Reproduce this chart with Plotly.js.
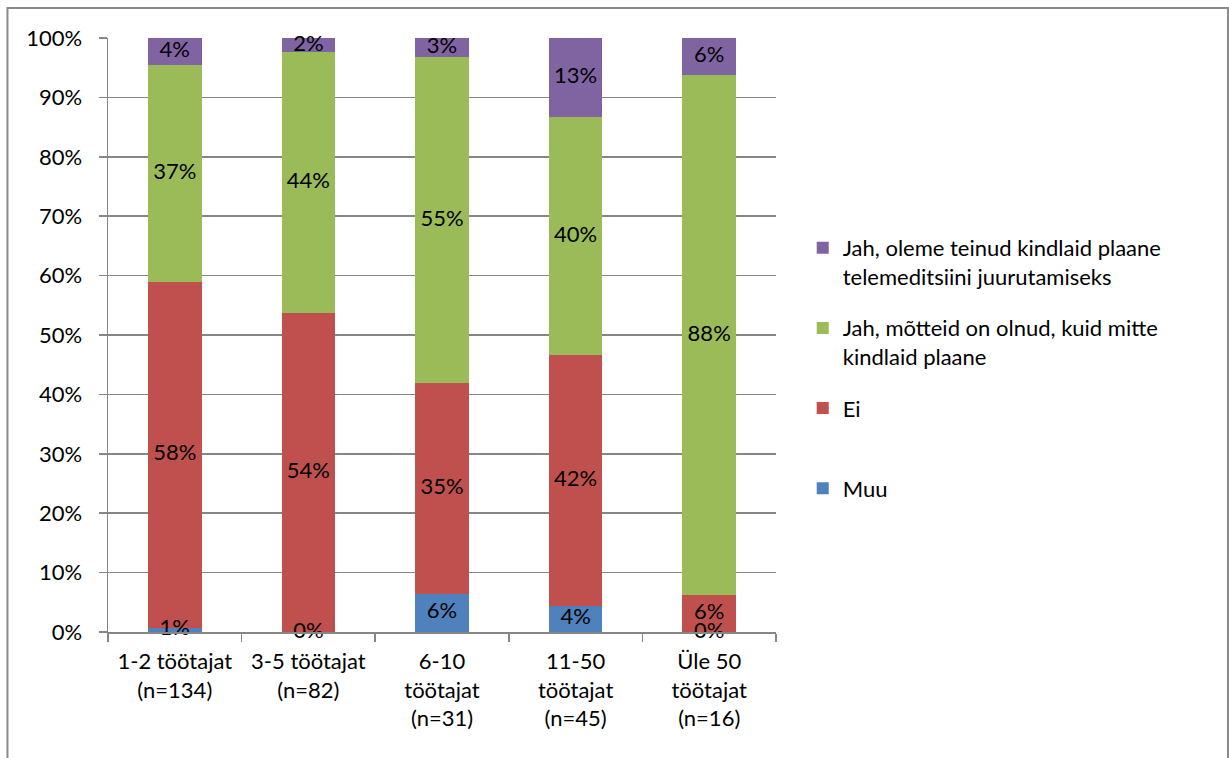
<!DOCTYPE html>
<html>
<head>
<meta charset="utf-8">
<script src="https://cdn.plot.ly/plotly-3.0.1.min.js"></script>
<style>
html,body{margin:0;padding:0;background:#fff;}
#chart{width:1229px;height:758px;}
</style>
</head>
<body>
<div id="chart"></div>
<script>
// Categories (x tick labels)
var categories = [
  "1-2 töötajat<br>(n=134)",
  "3-5 töötajat<br>(n=82)",
  "6-10<br>töötajat<br>(n=31)",
  "11-50<br>töötajat<br>(n=45)",
  "Üle 50<br>töötajat<br>(n=16)"
];

// Series values (percent)
var muu      = [0.75, 0.0, 6.45, 4.44, 0.0];
var ei       = [58.2, 53.66, 35.48, 42.22, 6.25];
var motteid  = [36.57, 43.9, 54.84, 40.0, 87.5];
var plaanid  = [4.48, 2.44, 3.23, 13.33, 6.25];

var seriesNames = [
  "Muu<br> ",
  "Ei<br> ",
  "Jah, mõtteid on olnud, kuid mitte<br>kindlaid plaane",
  "Jah, oleme teinud kindlaid plaane<br>telemeditsiini juurutamiseks"
];
var seriesValues = [muu, ei, motteid, plaanid];
var seriesColors = ["#4F81BD", "#C0504D", "#9BBB59", "#8064A2"];

var yTickVals = [0,10,20,30,40,50,60,70,80,90,100];
var yTickText = ["0%","10%","20%","30%","40%","50%","60%","70%","80%","90%","100%"];

var FONT = "Lato, 'Open Sans', sans-serif";
var FS = 22;

var traces = [];
for (var s = 0; s < seriesValues.length; s++) {
  traces.push({
    type: "bar",
    name: seriesNames[s],
    x: categories,
    y: seriesValues[s],
    marker: {color: seriesColors[s], line: {width: 0}},
    textposition: "none",
    hoverinfo: "skip",
    legendgroup: "g" + s,
    legendrank: 1000 - s
  });
}

// Data labels at the middle of each segment
var lx = [], ly = [], lt = [];
for (var c = 0; c < categories.length; c++) {
  var base = 0;
  for (var s2 = 0; s2 < seriesValues.length; s2++) {
    var v = seriesValues[s2][c];
    lx.push(categories[c]);
    ly.push(base + v / 2);
    lt.push(Math.round(v) + "%");
    base += v;
  }
}
traces.push({
  type: "scatter",
  mode: "text",
  x: lx, y: ly, text: lt,
  textposition: "middle center",
  textfont: {family: FONT, size: FS, color: "#000"},
  showlegend: false,
  hoverinfo: "skip",
  cliponaxis: false
});

var layout = {
  width: 1229,
  height: 758,
  margin: {l: 108, r: 453, t: 38, b: 126},
  paper_bgcolor: "#fff",
  plot_bgcolor: "#fff",
  barmode: "stack",
  bargap: 0.6,
  font: {family: FONT, size: FS, color: "#000"},
  showlegend: true,
  legend: {
    x: 1.040, y: 0.682, xanchor: "left", yanchor: "top",
    traceorder: "grouped",
    tracegroupgap: 20,
    valign: "top",
    font: {family: FONT, size: FS, color: "#000"},
    itemwidth: 30,
    bgcolor: "rgba(0,0,0,0)"
  },
  xaxis: {
    type: "category",
    showgrid: false,
    showline: true,
    linecolor: "#868686",
    linewidth: 1.5,
    ticks: "outside",
    tickson: "boundaries",
    ticklen: 8,
    tickcolor: "#868686",
    tickwidth: 1.5,
    ticklabelstandoff: 9,
    tickfont: {family: FONT, size: FS, color: "#000"},
    fixedrange: true
  },
  yaxis: {
    range: [0, 100],
    tickvals: yTickVals,
    ticktext: yTickText,
    showgrid: true,
    gridcolor: "#868686",
    gridwidth: 1.5,
    showline: true,
    linecolor: "#868686",
    linewidth: 1.5,
    ticks: "outside",
    ticklen: 8,
    tickcolor: "#868686",
    tickwidth: 1.5,
    ticklabelstandoff: 12,
    zeroline: false,
    tickfont: {family: FONT, size: FS, color: "#000"},
    fixedrange: true
  },
  shapes: [{
    type: "rect", xref: "paper", yref: "paper",
    x0: -0.1505, x1: 1.6766, y0: -0.3, y1: 1.0505,
    line: {color: "#8a8a8a", width: 2},
    fillcolor: "rgba(0,0,0,0)",
    layer: "below"
  }]
};

Plotly.newPlot("chart", traces, layout, {displayModeBar: false, staticPlot: true});
</script>
</body>
</html>
